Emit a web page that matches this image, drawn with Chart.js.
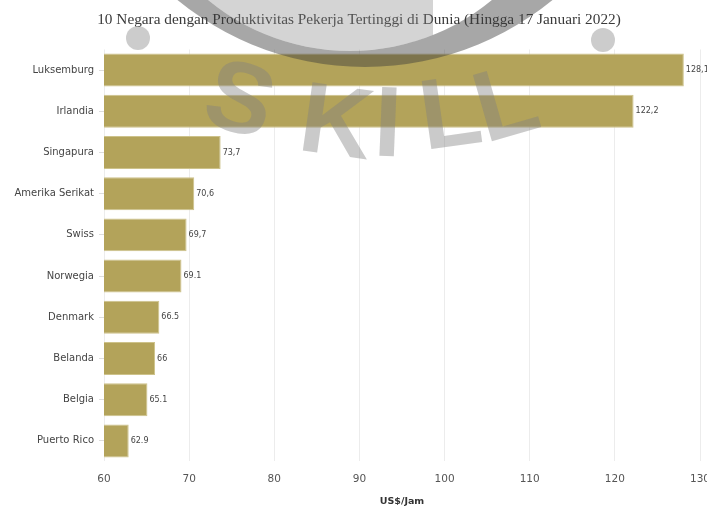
<!DOCTYPE html>
<html>
<head>
<meta charset="utf-8">
<script src="https://cdn.jsdelivr.net/npm/chart.js@4.4.1/dist/chart.umd.min.js"></script>
<style>
  html, body { margin: 0; padding: 0; background: #ffffff; }
  #wrap { width: 707px; height: 506px; }
</style>
</head>
<body>
<div id="wrap"><canvas id="c" width="707" height="506"></canvas></div>
<script>
const chartTitle = '10 Negara dengan Produktivitas Pekerja Tertinggi di Dunia (Hingga 17 Januari 2022)';
const categories = ['Luksemburg', 'Irlandia', 'Singapura', 'Amerika Serikat', 'Swiss', 'Norwegia', 'Denmark', 'Belanda', 'Belgia', 'Puerto Rico'];
const values = [128.1, 122.2, 73.7, 70.6, 69.7, 69.1, 66.5, 66, 65.1, 62.9];
const valueLabels = ['128,1', '122,2', '73,7', '70,6', '69,7', '69.1', '66.5', '66', '65.1', '62.9'];
const xMin = 60, xMax = 130, xStep = 10;
const xAxisTitle = 'US$/Jam';
const watermarkText = 'SKILL';

const valueLabelPlugin = {
  id: 'valueLabels',
  afterDatasetsDraw(chart) {
    const ctx = chart.ctx;
    const meta = chart.getDatasetMeta(0);
    ctx.save();
    ctx.font = '8px "DejaVu Sans"';
    ctx.fillStyle = '#444444';
    ctx.textAlign = 'left';
    ctx.textBaseline = 'middle';
    meta.data.forEach((bar, i) => {
      ctx.fillText(valueLabels[i], bar.x + 2, bar.y);
    });
    ctx.restore();
  }
};

const watermarkPlugin = {
  id: 'watermark',
  afterDraw(chart) {
    const ctx = chart.ctx;
    ctx.save();
    // inner disc
    ctx.save();
    ctx.beginPath();
    ctx.rect(0, 0, 433, 506);
    ctx.clip();
    ctx.beginPath();
    ctx.arc(350, -172, 223, 0, Math.PI * 2);
    ctx.fillStyle = 'rgba(128,128,128,0.34)';
    ctx.fill();
    ctx.restore();
    // ring
    ctx.beginPath();
    ctx.arc(365, -229, 296, 0, Math.PI * 2);
    ctx.arc(350, -172, 223, 0, Math.PI * 2, true);
    ctx.fillStyle = 'rgba(60,60,60,0.45)';
    ctx.fill('evenodd');
    // dots
    ctx.fillStyle = 'rgba(128,128,128,0.40)';
    [[138, 38], [603, 40]].forEach(([x, y]) => {
      ctx.beginPath();
      ctx.arc(x, y, 12, 0, Math.PI * 2);
      ctx.fill();
    });
    // letters
    const pos = [[241, 96, 0.28], [337, 119, 0.14], [388, 120, 0.04], [450, 110, -0.14], [505, 100, -0.28]];
    ctx.font = 'bold 100px "Liberation Sans"';
    ctx.textAlign = 'center';
    ctx.textBaseline = 'alphabetic';
    ctx.fillStyle = 'rgba(128,128,128,0.42)';
    watermarkText.split('').forEach((ch, i) => {
      const [x, y, a] = pos[i];
      ctx.save();
      ctx.translate(x, y);
      ctx.rotate(a);
      ctx.fillText(ch, 0, 36);
      ctx.restore();
    });
    ctx.restore();
  }
};

new Chart(document.getElementById('c'), {
  type: 'bar',
  data: {
    labels: categories,
    datasets: [{
      data: values,
      backgroundColor: '#b3a35a',
      borderColor: '#cdc28a',
      borderWidth: 1,
      barPercentage: 0.8,
      categoryPercentage: 1.0
    }]
  },
  options: {
    indexAxis: 'y',
    responsive: false,
    animation: false,
    layout: { padding: { left: 11, right: 0, top: 0, bottom: 0 } },
    plugins: {
      legend: { display: false },
      tooltip: { enabled: false },
      title: {
        display: true,
        text: chartTitle,
        color: '#3a3a3a',
        font: { family: '"Liberation Serif"', size: 15.3, weight: 'normal', lineHeight: 1.2 },
        padding: { top: 10.8, bottom: 20.3 }
      }
    },
    scales: {
      x: {
        type: 'linear',
        min: xMin,
        max: xMax,
        ticks: {
          stepSize: xStep,
          color: '#555555',
          font: { family: '"DejaVu Sans"', size: 10.5 },
          padding: 11,
          maxRotation: 0
        },
        grid: { color: '#ececec', lineWidth: 1, drawTicks: false },
        border: { display: false },
        title: {
          display: true,
          text: xAxisTitle,
          color: '#333333',
          font: { family: '"DejaVu Sans"', size: 9.5, weight: 'bold', lineHeight: 1.0 },
          padding: { top: 0, bottom: 0 }
        },
        afterFit(scale) {
          scale.height = 44.5;
          scale.paddingRight = 7;
          scale.paddingLeft = 0;
        }
      },
      y: {
        ticks: {
          color: '#444444',
          font: { family: '"DejaVu Sans"', size: 10 },
          padding: 5
        },
        grid: { offset: false, drawOnChartArea: false, drawTicks: true, tickLength: 5, color: '#dddddd' },
        border: { display: false },
        afterFit(scale) {
          scale.width = 93;
          scale.paddingTop = 0;
          scale.paddingBottom = 0;
        }
      }
    }
  },
  plugins: [valueLabelPlugin, watermarkPlugin]
});
</script>
</body>
</html>
